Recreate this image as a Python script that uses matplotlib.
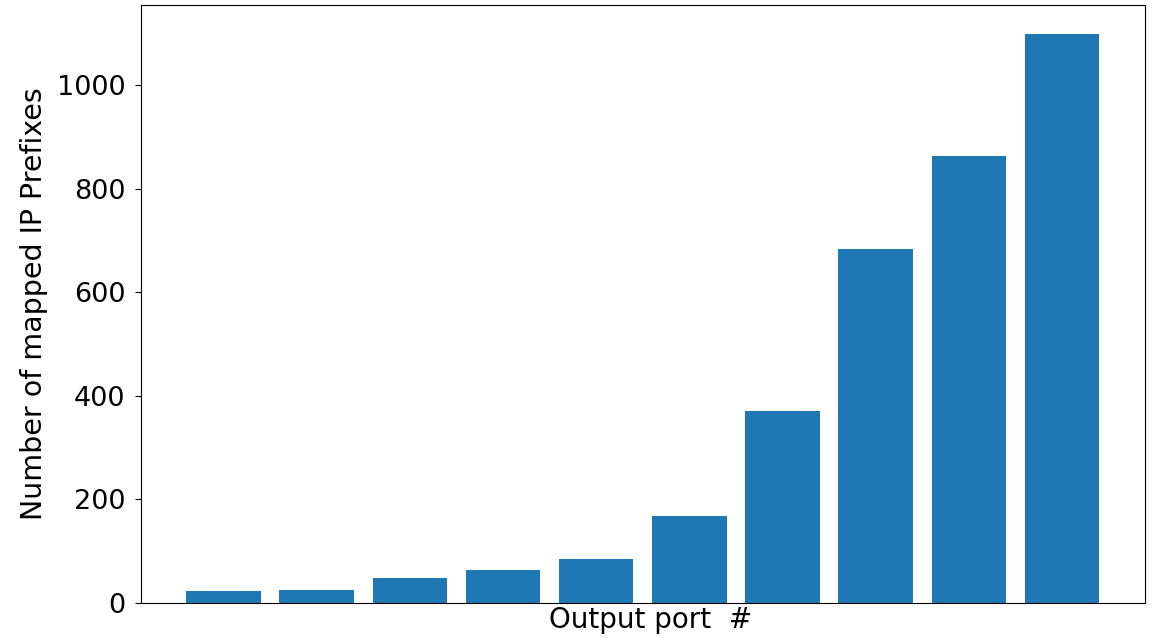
import numpy as np
import matplotlib
matplotlib.use("Agg")
import matplotlib.pyplot as plt

# number of mapped prefixes per output port
ports = np.arange(10)
prefix_counts = [23, 25, 48, 63, 85, 168, 370, 683, 863, 1100]

fig = plt.figure(figsize=(11.53, 6.38), dpi=100)
ax = fig.add_axes([0.122, 0.055, 0.871, 0.937])

ax.bar(ports, prefix_counts, color="#1f77b4")

ax.set_xticks([])
ax.set_yticks([0, 200, 400, 600, 800, 1000])
ax.tick_params(axis="y", labelsize=19.5, length=4.5, pad=6.5)
ax.set_xlabel("Output port  #", fontsize=20, labelpad=5)
ax.xaxis.set_label_coords(0.508, -0.005, transform=ax.transAxes)
ax.xaxis.label.set_va("top")
ax.set_ylabel("Number of mapped IP Prefixes", fontsize=20.5, labelpad=6)

fig.savefig("out.png", dpi=100)
